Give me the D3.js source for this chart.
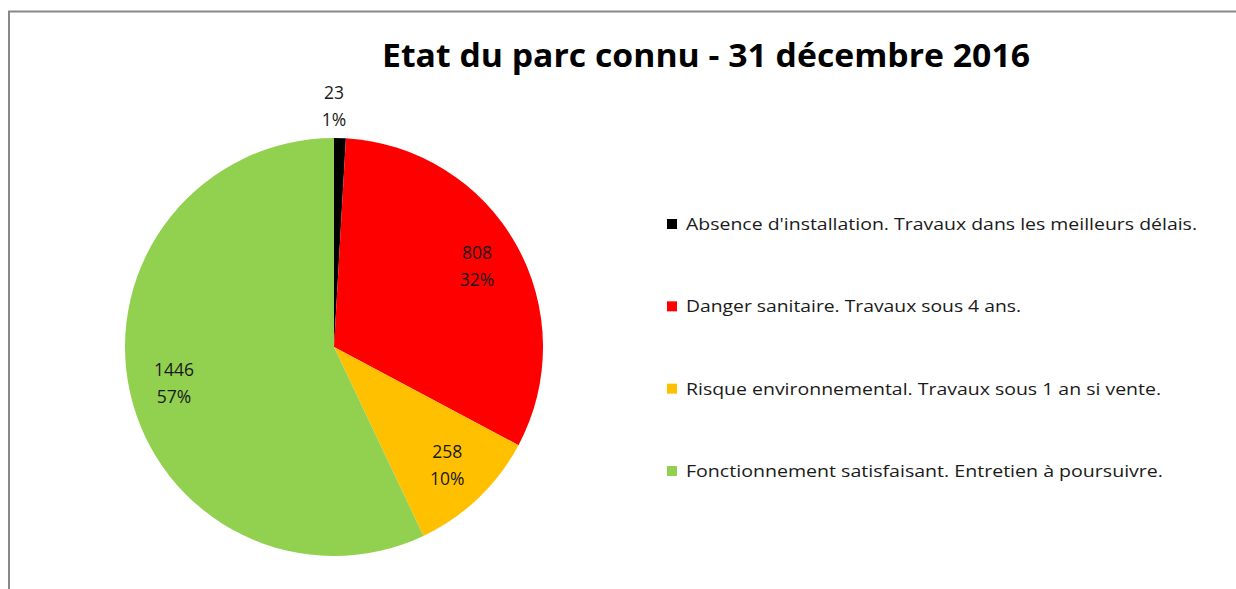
<!DOCTYPE html>
<html><head><meta charset="utf-8">
<script src="https://cdn.jsdelivr.net/npm/d3@7"></script>
<style>html,body{margin:0;padding:0;background:#fff;}svg{display:block;}</style>
</head><body>
<svg id="c" width="1236" height="589"></svg>
<script>
const categories = [
  "Absence d'installation. Travaux dans les meilleurs délais.",
  "Danger sanitaire. Travaux sous 4 ans.",
  "Risque environnemental. Travaux sous 1 an si vente.",
  "Fonctionnement satisfaisant. Entretien à poursuivre."
];
const values = [23, 808, 258, 1446];
const percentLabels = ["1%", "32%", "10%", "57%"];
const colors = ["#000000", "#FF0000", "#FFC000", "#92D050"];
const title = "Etat du parc connu - 31 décembre 2016";

const svg = d3.select("#c");
const font = "'Open Sans', 'DejaVu Sans', sans-serif";

// frame
svg.append("path").attr("d","M9,589 V11.5 H1236").attr("fill","none")
  .attr("stroke","#888").attr("stroke-width",2);

// title
svg.append("text").attr("x",706).attr("y",67).attr("text-anchor","middle")
  .attr("font-family",font).attr("font-weight","bold").attr("font-size",32)
  .attr("textLength",648).attr("lengthAdjust","spacingAndGlyphs")
  .attr("fill","#000").text(title);

const cx = 334, cy = 347, R = 209;
const g = svg.append("g").attr("transform",`translate(${cx},${cy})`);
const pie = d3.pie().value(d=>d).sort(null);
const arcs = pie(values);
const arc = d3.arc().innerRadius(0).outerRadius(R);
g.selectAll("path.s").data(arcs).join("path").attr("class","s")
  .attr("d",arc).attr("fill",(d,i)=>colors[i]);

const inLabel = d3.arc().innerRadius(164*2).outerRadius(0); // centroid at r=164
const outLabel = d3.arc().innerRadius(241*2).outerRadius(0);
const total = d3.sum(values);
arcs.forEach((d,i)=>{
  const small = d.value/total < 0.05;
  let [x,y] = (small ? outLabel : inLabel).centroid(d);
  if (small) x = 0; // Excel centres the outside label above the slice
  const t = g.append("text").attr("text-anchor","middle")
    .attr("font-family",font).attr("font-size",17.5).attr("fill","#1a1a1a");
  t.append("tspan").attr("x",x).attr("y",y-13.5).attr("dy","0.35em").text(values[i]);
  t.append("tspan").attr("x",x).attr("y",y+13.5).attr("dy","0.35em").text(percentLabels[i]);
});

// legend
const legW = [511, 335, 475, 477];
const ly = d3.scalePoint().domain(d3.range(categories.length)).range([224, 471]);
const lg = svg.append("g");
categories.forEach((c,i)=>{
  const y = ly(i);
  lg.append("rect").attr("x",667).attr("y",y-5).attr("width",10).attr("height",10).attr("fill",colors[i]);
  lg.append("text").attr("x",686).attr("y",y).attr("dy","0.35em")
    .attr("font-family",font).attr("font-size",17).attr("fill","#1a1a1a")
    .attr("textLength",legW[i]).attr("lengthAdjust","spacingAndGlyphs").text(c);
});
</script>
</body></html>
